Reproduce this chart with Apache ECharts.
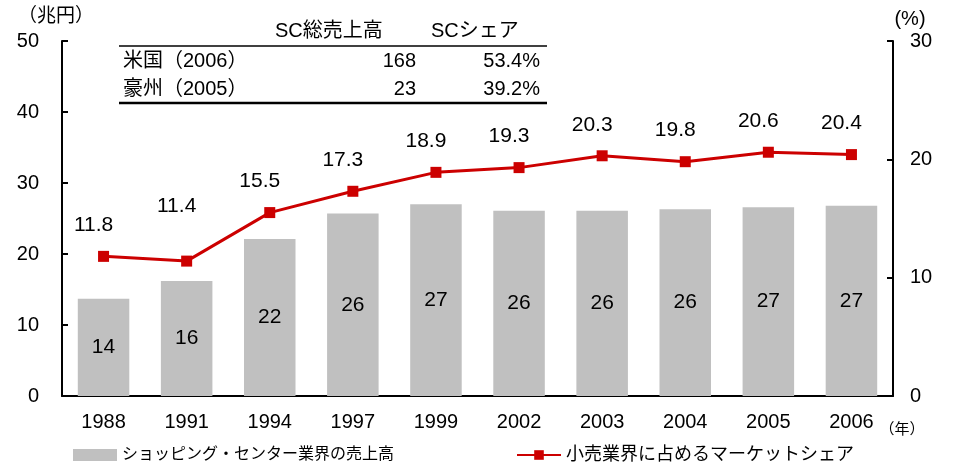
<!DOCTYPE html>
<html>
<head>
<meta charset="utf-8">
<style>
  html, body { margin: 0; padding: 0; background: #fff; }
  #chart { width: 955px; height: 464px; }
</style>
<script src="https://cdn.jsdelivr.net/npm/echarts@6/dist/echarts.min.js"></script>
</head>
<body>
<div id="chart"></div>
<script>
// Years on the category axis
const years = ['1988', '1991', '1994', '1997', '1999', '2002', '2003', '2004', '2005', '2006'];
// Shopping-centre industry sales (trillion yen)
const scSales = [13.7, 16.2, 22.1, 25.7, 27.0, 26.1, 26.1, 26.3, 26.6, 26.8];
// Share of total retail sales (%)
const retailShare = [11.8, 11.4, 15.5, 17.3, 18.9, 19.3, 20.3, 19.8, 20.6, 20.4];
// Axis tick values
const leftTicks = [0, 10, 20, 30, 40, 50];
const rightTicks = [0, 10, 20, 30];
// Inset table: US / Australia totals
const tableHeader = ['SC総売上高', 'SCシェア'];
const tableRows = ['米国（2006）', '豪州（2005）'];
const tableSales = [168, 23];
const tableShare = [53.4, 39.2];

const seriesNames = ['ショッピング・センター業界の売上高', '小売業界に占めるマーケットシェア'];

// Extra upward shift for crowded share labels (px)
const labelLift = { '1991': 24 };

const FONT = "'Liberation Sans', Arial, 'Noto Sans CJK JP', sans-serif";
const RED = '#CC0000';
const GREY = '#C0C0C0';

const chart = echarts.init(document.getElementById('chart'), null, { renderer: 'canvas' });

const tableGraphics = [];
// header
tableGraphics.push({ type: 'text', left: 275, top: 21, style: { text: tableHeader[0], font: '20px ' + FONT, fill: '#000' } });
tableGraphics.push({ type: 'text', left: 431, top: 21, style: { text: tableHeader[1], font: '20px ' + FONT, fill: '#000' } });
// rules
tableGraphics.push({ type: 'line', shape: { x1: 119, y1: 46, x2: 547, y2: 46 }, style: { stroke: '#000', lineWidth: 1.5 } });
tableGraphics.push({ type: 'line', shape: { x1: 119, y1: 103, x2: 547, y2: 103 }, style: { stroke: '#000', lineWidth: 2.5 } });
// rows
const rowY = [61, 89];
tableRows.forEach((name, i) => {
  tableGraphics.push({ type: 'text', x: 123, y: rowY[i], style: { text: name, font: '20px ' + FONT, fill: '#000', textVerticalAlign: 'middle', textAlign: 'left' } });
  tableGraphics.push({ type: 'text', x: 416, y: rowY[i], style: { text: String(tableSales[i]), font: '20px ' + FONT, fill: '#000', textVerticalAlign: 'middle', textAlign: 'right' } });
  tableGraphics.push({ type: 'text', x: 540, y: rowY[i], style: { text: tableShare[i].toFixed(1) + '%', font: '20px ' + FONT, fill: '#000', textVerticalAlign: 'middle', textAlign: 'right' } });
});

const option = {
  backgroundColor: '#ffffff',
  animation: false,
  textStyle: { fontFamily: FONT },
  grid: { left: 62, right: 62, top: 41, bottom: 68, containLabel: false },
  legend: [
    {
      left: 68, top: 442,
      itemWidth: 44, itemHeight: 12, itemGap: 4,
      data: [{ name: seriesNames[0], icon: 'rect' }],
      textStyle: { fontSize: 16, color: '#000', fontFamily: FONT },
      selectedMode: false
    },
    {
      left: 511, top: 441,
      itemWidth: 44, itemHeight: 12, itemGap: 4,
      data: [{ name: seriesNames[1] }],
      textStyle: { fontSize: 18, color: '#000', fontFamily: FONT },
      selectedMode: false
    }
  ],
  xAxis: {
    type: 'category',
    data: years,
    axisLine: { lineStyle: { color: '#000', width: 2 } },
    axisTick: { show: false },
    axisLabel: { color: '#000', fontSize: 20, margin: 16, fontFamily: FONT }
  },
  yAxis: [
    {
      type: 'value', min: 0, max: 50, interval: 10,
      axisLine: { show: true, lineStyle: { color: '#000', width: 2 } },
      axisTick: { show: true, inside: true, length: 6, lineStyle: { color: '#000', width: 2 } },
      axisLabel: {
        color: '#000', fontSize: 20, margin: 23, fontFamily: FONT,
        formatter: v => leftTicks.includes(v) ? String(v) : ''
      },
      splitLine: { show: false }
    },
    {
      type: 'value', min: 0, max: 30, interval: 10,
      axisLine: { show: true, lineStyle: { color: '#000', width: 2 } },
      axisTick: { show: true, inside: true, length: 6, lineStyle: { color: '#000', width: 2 } },
      axisLabel: {
        color: '#000', fontSize: 20, margin: 17, fontFamily: FONT,
        formatter: v => rightTicks.includes(v) ? String(v) : ''
      },
      splitLine: { show: false }
    }
  ],
  graphic: [
    { type: 'text', x: 56, y: 17, style: { text: '（兆円）', font: '19px ' + FONT, fill: '#000', textAlign: 'center', textVerticalAlign: 'middle' } },
    { type: 'text', x: 910, y: 19, style: { text: '(%)', font: '20px ' + FONT, fill: '#000', textAlign: 'center', textVerticalAlign: 'middle' } },
    { type: 'text', x: 902, y: 430, style: { text: '（年）', font: '15px ' + FONT, fill: '#000', textAlign: 'center', textVerticalAlign: 'middle' } },
    ...tableGraphics
  ],
  series: [
    {
      name: seriesNames[0],
      type: 'bar',
      yAxisIndex: 0,
      data: scSales,
      barWidth: '62%',
      itemStyle: { color: GREY },
      label: {
        show: true, position: 'inside', color: '#000', fontSize: 21, fontFamily: FONT,
        formatter: p => String(Math.round(p.value))
      },
      z: 2
    },
    {
      name: seriesNames[1],
      type: 'line',
      yAxisIndex: 1,
      data: retailShare.map((v, i) => ({
        value: v,
        label: { offset: [-10, -(labelLift[years[i]] || 0)] }
      })),
      symbol: 'rect',
      symbolSize: 11,
      lineStyle: { color: RED, width: 3 },
      itemStyle: { color: RED },
      label: {
        show: true, position: 'top', distance: 15, color: '#000', fontSize: 21, fontFamily: FONT,
        formatter: p => p.value.toFixed(1)
      },
      z: 3
    }
  ]
};

chart.setOption(option);
</script>
</body>
</html>
